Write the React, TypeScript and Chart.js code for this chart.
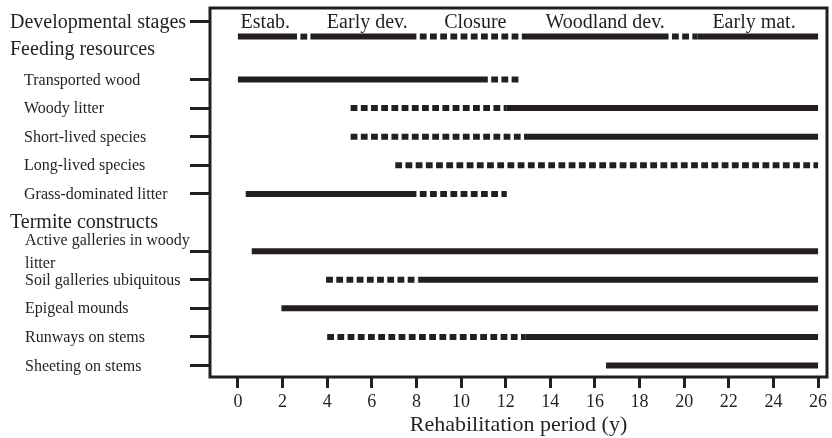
import { useEffect, useRef } from "react";
import { Chart, registerables } from "chart.js";

Chart.register(...registerables);

// ---------- data ----------
const xTickValues = [0, 2, 4, 6, 8, 10, 12, 14, 16, 18, 20, 22, 24, 26];
const xTitle = "Rehabilitation period (y)";

const groupTitles = ["Developmental stages", "Feeding resources", "Termite constructs"];

const stageNames = ["Estab.", "Early dev.", "Closure", "Woodland dev.", "Early mat."];
const stageCentres = [1.23, 5.8, 10.64, 16.46, 23.13];
const stageSolid = [[0, 2.65], [3.25, 8], [13, 19.3], [20.6, 26]];
const stageDashed = [[2.65, 3.25], [8, 13], [19.3, 20.6]];

const feedingRows = [
  "Transported wood",
  "Woody litter",
  "Short-lived species",
  "Long-lived species",
  "Grass-dominated litter",
];
const feedingSolid = [[[0, 11.2]], [[12.05, 26]], [[13, 26]], [], [[0.35, 8]]];
const feedingDashed = [[[11.2, 12.6]], [[4.9, 12.05]], [[4.9, 13]], [[6.9, 26]], [[8, 12.05]]];

const termiteRows = [
  ["Active galleries in woody", "litter"],
  ["Soil galleries ubiquitous"],
  ["Epigeal mounds"],
  ["Runways on stems"],
  ["Sheeting on stems"],
];
const termiteSolid = [[[0.62, 26]], [[8.1, 26]], [[1.95, 26]], [[12.9, 26]], [[16.5, 26]]];
const termiteDashed = [[], [[3.8, 8.1]], [], [[3.85, 12.9]], []];

// ---------- layout (row positions on the y scale) ----------
const STAGE_TICK = -0.04;
const STAGE_BAR = 0.5;
const FEED_HEAD = 0.91;
const TERM_HEAD = 6.96;
const feedY = (i: number) => 2 + i;
const termY = (i: number) => 8 + i;

const INK = "#231f20";
const SERIF = '"Liberation Serif", "Times New Roman", serif';
const DASH = [6.8, 3.4];

function seg(a: number, b: number, y: number, dashed: boolean) {
  return {
    data: [
      { x: a, y },
      { x: b, y },
    ],
    borderColor: INK,
    borderWidth: 6,
    borderCapStyle: "butt",
    borderDash: dashed ? DASH : [],
    borderDashOffset: dashed ? DASH[0] : 0,
    pointRadius: 0,
    fill: false,
    tension: 0,
    clip: false,
  };
}

function buildDatasets() {
  const ds: any[] = [];
  stageSolid.forEach(([a, b]) => ds.push(seg(a, b, STAGE_BAR, false)));
  stageDashed.forEach(([a, b]) => ds.push(seg(a, b, STAGE_BAR, true)));
  feedingRows.forEach((_, i) => {
    feedingSolid[i].forEach(([a, b]) => ds.push(seg(a, b, feedY(i), false)));
    feedingDashed[i].forEach(([a, b]) => ds.push(seg(a, b, feedY(i), true)));
  });
  termiteRows.forEach((_, i) => {
    termiteSolid[i].forEach(([a, b]) => ds.push(seg(a, b, termY(i), false)));
    termiteDashed[i].forEach(([a, b]) => ds.push(seg(a, b, termY(i), true)));
  });
  return ds;
}

const yTickValues = [
  STAGE_TICK,
  ...feedingRows.map((_, i) => feedY(i)),
  ...termiteRows.map((_, i) => termY(i)),
];

const framePlugin = {
  id: "frame",
  afterDraw(chart: any) {
    const { ctx, chartArea: a } = chart;
    ctx.save();
    ctx.strokeStyle = INK;
    ctx.lineWidth = 3;
    ctx.strokeRect(a.left, a.top, a.right - a.left, a.bottom - a.top);
    ctx.restore();
  },
};

const textPlugin = {
  id: "rowText",
  afterDraw(chart: any) {
    const { ctx } = chart;
    const x = chart.scales.x;
    const y = chart.scales.y;
    ctx.save();
    ctx.fillStyle = INK;
    ctx.textBaseline = "alphabetic";
    ctx.textAlign = "left";
    ctx.font = `20px ${SERIF}`;
    const heads = [STAGE_TICK, FEED_HEAD, TERM_HEAD];
    groupTitles.forEach((t, i) => ctx.fillText(t, 10, y.getPixelForValue(heads[i]) + 7));
    ctx.textAlign = "center";
    stageNames.forEach((t, i) =>
      ctx.fillText(t, x.getPixelForValue(stageCentres[i]), y.getPixelForValue(STAGE_TICK) + 7)
    );
    ctx.textAlign = "left";
    ctx.font = `16px ${SERIF}`;
    feedingRows.forEach((t, i) => ctx.fillText(t, 24, y.getPixelForValue(feedY(i)) + 5));
    termiteRows.forEach((lines, i) => {
      const base = y.getPixelForValue(termY(i));
      if (lines.length === 1) {
        ctx.fillText(lines[0], 25, base + 5);
      } else {
        ctx.fillText(lines[0], 25, base - 6);
        ctx.fillText(lines[1], 25, base + 17);
      }
    });
    ctx.restore();
  },
};

export default function App() {
  const ref = useRef<HTMLCanvasElement | null>(null);
  useEffect(() => {
    if (!ref.current) return;
    const chart = new Chart(ref.current, {
      type: "line",
      data: { datasets: buildDatasets() },
      options: {
        animation: false,
        responsive: false,
        events: [],
        layout: { padding: { left: 0, right: 5, top: 8, bottom: 0 } },
        plugins: { legend: { display: false }, tooltip: { enabled: false } },
        scales: {
          x: {
            type: "linear",
            min: -1.25,
            max: 26.4,
            afterBuildTicks: (s: any) => {
              s.ticks = xTickValues.map((v) => ({ value: v }));
            },
            afterFit: (s: any) => {
              s.height = 61;
            },
            border: { display: false },
            grid: {
              drawOnChartArea: false,
              drawTicks: true,
              tickLength: 11,
              lineWidth: 3,
              color: INK,
            },
            ticks: {
              padding: 3,
              color: INK,
              font: { family: SERIF, size: 18 },
              maxRotation: 0,
              autoSkip: false,
            },
            title: {
              display: true,
              text: xTitle,
              color: INK,
              font: { family: SERIF, size: 22 },
              padding: { top: 0, bottom: 0 },
            },
          },
          y: {
            type: "linear",
            reverse: true,
            min: -0.5,
            max: 12.4,
            afterBuildTicks: (s: any) => {
              s.ticks = yTickValues.map((v) => ({ value: v }));
            },
            afterFit: (s: any) => {
              s.width = 210;
            },
            border: { display: false },
            grid: {
              drawOnChartArea: false,
              drawTicks: true,
              tickLength: 20,
              lineWidth: 3,
              color: INK,
            },
            ticks: { display: false },
          },
        },
      } as any,
      plugins: [framePlugin, textPlugin],
    });
    return () => chart.destroy();
  }, []);
  return (
    <div style={{ position: "absolute", left: 0, top: 0, width: 832, height: 438, background: "#fff" }}>
      <canvas ref={ref} width={832} height={438} style={{ display: "block" }} />
    </div>
  );
}
